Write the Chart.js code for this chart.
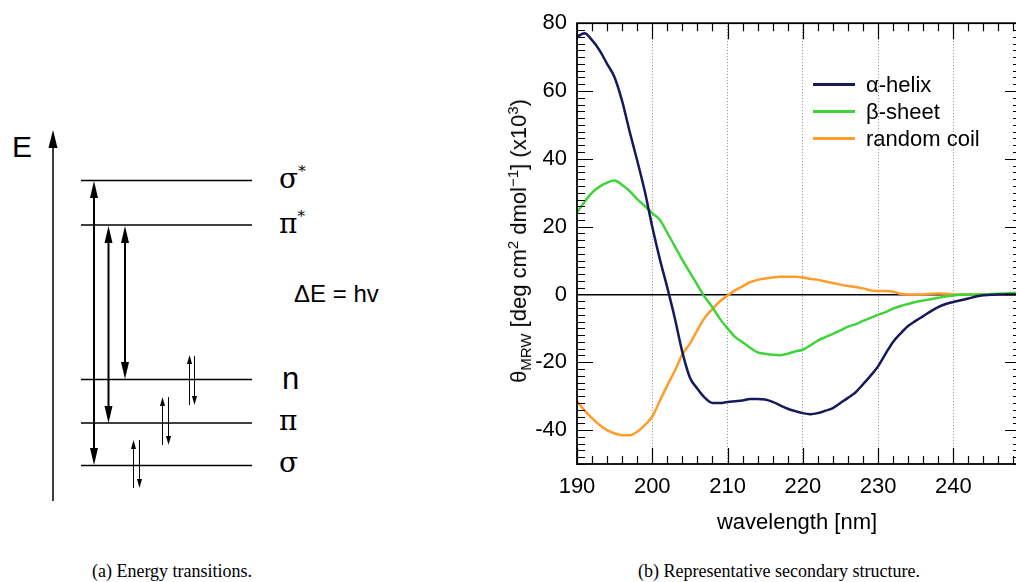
<!DOCTYPE html>
<html>
<head>
<meta charset="utf-8">
<title>CD spectra</title>
<script src="https://cdn.jsdelivr.net/npm/chart.js@4.4.0/dist/chart.umd.min.js"></script>
<style>
  html, body { margin: 0; padding: 0; background: #fff; }
  body { width: 1016px; height: 582px; position: relative; overflow: hidden;
         font-family: "Liberation Sans", Arial, Helvetica, sans-serif; color: #000; }
  #panelA { position: absolute; left: 0; top: 0; }
  #cdWrap { position: absolute; left: 500px; top: 0; width: 530px; height: 540px; }
  .ytitle { position: absolute; left: 519px; top: 241px; font-size: 22px; white-space: nowrap;
            transform: translate(-50%, -50%) rotate(-90deg); }
  .ytitle sub, .ytitle sup { font-size: 15px; line-height: 0; }
  .ytitle sup { vertical-align: 0.55em; }
  .xtitle { position: absolute; left: 797px; top: 522px; font-size: 22px; white-space: nowrap;
            transform: translate(-50%, -50%); }
  #legend { position: absolute; left: 813px; top: 71px; font-size: 22px; }
  #legend .row { position: relative; height: 27px; }
  #legend .swatch { position: absolute; left: 0; top: 12px; width: 42px; height: 3px; }
  #legend .name { position: absolute; left: 53px; top: 0; line-height: 27px; white-space: nowrap; }
  .caption { position: absolute; top: 571px; font-family: "Liberation Serif", "Times New Roman", serif;
             font-size: 18px; white-space: nowrap; transform: translate(-50%, -50%); }
</style>
</head>
<body>

<!-- (a) energy level diagram -->
<svg id="panelA" width="480" height="540" xmlns="http://www.w3.org/2000/svg">
  <g stroke="#000" fill="none">
    <!-- energy axis -->
    <line x1="53" y1="501" x2="53" y2="145" stroke-width="1.5"/>
    <!-- levels -->
    <line x1="81" y1="180.5" x2="252" y2="180.5" stroke-width="1.5"/>
    <line x1="81" y1="225" x2="252" y2="225" stroke-width="1.5"/>
    <line x1="81" y1="379.5" x2="252" y2="379.5" stroke-width="1.5"/>
    <line x1="81" y1="423" x2="252" y2="423" stroke-width="1.5"/>
    <line x1="81" y1="465.5" x2="252" y2="465.5" stroke-width="1.5"/>
    <!-- transitions -->
    <line x1="94" y1="195" x2="94" y2="450" stroke-width="2"/>
    <line x1="108.5" y1="240" x2="108.5" y2="408" stroke-width="2"/>
    <line x1="125" y1="240" x2="125" y2="364" stroke-width="2"/>
    <!-- electron pairs -->
    <line x1="189.5" y1="405" x2="189.5" y2="362" stroke-width="1"/>
    <line x1="194.5" y1="356" x2="194.5" y2="398" stroke-width="1"/>
    <line x1="162.5" y1="445" x2="162.5" y2="404" stroke-width="1"/>
    <line x1="168.5" y1="397" x2="168.5" y2="438" stroke-width="1"/>
    <line x1="133.5" y1="488" x2="133.5" y2="447" stroke-width="1"/>
    <line x1="139.5" y1="440" x2="139.5" y2="481" stroke-width="1"/>
  </g>
  <g fill="#000">
    <polygon points="53,130 48.5,148 57.5,148"/>
    <polygon points="94,181 90,198 98,198"/>
    <polygon points="94,465 90,448 98,448"/>
    <polygon points="108.5,226 104.5,243 112.5,243"/>
    <polygon points="108.5,423 104.5,406 112.5,406"/>
    <polygon points="125,226 121,243 129,243"/>
    <polygon points="125,379 121,362 129,362"/>
    <polygon points="189.5,355 187,364 192,364"/>
    <polygon points="194.5,405 192,396 197,396"/>
    <polygon points="162.5,397 160,406 165,406"/>
    <polygon points="168.5,445 166,436 171,436"/>
    <polygon points="133.5,440 131,449 136,449"/>
    <polygon points="139.5,488 137,479 142,479"/>
  </g>
  <g fill="#000" font-family="Liberation Sans, Arial, sans-serif">
    <text x="12" y="157" font-size="30">E</text>
    <text x="294" y="302" font-size="24">ΔE = hv</text>
    <text x="282" y="389" font-size="31">n</text>
  </g>
  <g fill="#000" font-family="DejaVu Serif, Liberation Serif, serif">
    <text x="279" y="188" font-size="28">σ<tspan font-size="15" dy="-12">*</tspan></text>
    <text x="279" y="233" font-size="28">π<tspan font-size="15" dy="-12">*</tspan></text>
    <text x="279" y="430" font-size="28">π</text>
    <text x="279" y="472" font-size="28">σ</text>
  </g>
</svg>

<!-- (b) CD spectra -->
<div id="cdWrap"><canvas id="cd" width="530" height="540"></canvas></div>
<div class="ytitle">θ<sub>MRW</sub> [deg cm<sup>2</sup> dmol<sup>−1</sup>] (x10<sup>3</sup>)</div>
<div class="xtitle">wavelength [nm]</div>
<div id="legend"></div>

<div class="caption" style="left:172px">(a) Energy transitions.</div>
<div class="caption" style="left:779px">(b) Representative secondary structure.</div>

<script>
// wavelength in nm, 1 nm steps
const wavelength = [
  190, 191, 192, 193, 194, 195, 196, 197, 198, 199,
  200, 201, 202, 203, 204, 205, 206, 207, 208, 209,
  210, 211, 212, 213, 214, 215, 216, 217, 218, 219,
  220, 221, 222, 223, 224, 225, 226, 227, 228, 229,
  230, 231, 232, 233, 234, 235, 236, 237, 238, 239,
  240, 241, 242, 243, 244, 245, 246, 247, 248, 249
];

// mean residue ellipticity, x10^3 deg cm2 dmol-1
const alphaHelix = [
  76.0, 77.0, 75.0, 72.0, 68.0, 64.0, 57.0, 48.0, 39.5, 30.5,
  20.0, 10.5, 2.0, -7.0, -17.0, -24.5, -27.8, -30.5, -32.0, -32.0,
  -31.7, -31.5, -31.3, -30.8, -30.8, -31.0, -31.7, -32.7, -33.7, -34.4,
  -35.0, -35.3, -35.0, -34.3, -33.5, -32.0, -30.5, -28.9, -26.5, -24.0,
  -21.2, -17.5, -14.0, -11.5, -9.3, -7.8, -6.4, -5.0, -3.7, -2.8,
  -2.2, -1.7, -1.2, -0.6, -0.2, -0.1, 0, 0, 0, 0
];
const betaSheet = [
  24.2, 27.3, 30.0, 31.8, 33.0, 33.6, 32.3, 30.5, 28.1, 26.1,
  24.0, 22.0, 18.2, 14.2, 10.2, 6.5, 2.8, -0.8, -3.8, -7.2,
  -10.0, -12.5, -14.1, -15.7, -17.1, -17.5, -17.8, -17.9, -17.5, -16.8,
  -16.3, -15.0, -13.6, -12.6, -11.6, -10.6, -9.5, -8.8, -7.8, -6.9,
  -6.0, -5.2, -4.2, -3.4, -2.8, -2.2, -1.8, -1.4, -1.0, -0.6,
  -0.3, -0.1, 0, 0, 0, 0.1, 0.2, 0.3, 0.4, 0.4
];
const randomCoil = [
  -31.4, -34.2, -36.5, -38.5, -40.0, -41.0, -41.5, -41.5, -40.5, -38.5,
  -36.0, -31.4, -26.8, -22.5, -17.7, -14.5, -10.5, -6.8, -4.3, -2.0,
  -0.3, 1.2, 2.4, 3.6, 4.3, 4.7, 5.0, 5.2, 5.2, 5.2,
  5.0, 4.6, 4.3, 3.8, 3.4, 2.9, 2.5, 2.2, 1.8, 1.2,
  1.0, 1.0, 0.8, 0.2, 0, 0, 0, 0.2, 0.3, 0.2,
  0, 0, 0, 0, 0, 0, 0, 0, 0, 0
];

const seriesNames = ['α-helix', 'β-sheet', 'random coil'];
const seriesColors = ['#16195a', '#3fd43a', '#ff9d2b'];
const xTicks = [190, 200, 210, 220, 230, 240];
const yTicks = [-40, -20, 0, 20, 40, 60, 80];

const series = [alphaHelix, betaSheet, randomCoil];
const datasets = series.map((vals, i) => ({
  label: seriesNames[i],
  data: vals.map((v, k) => ({ x: wavelength[k], y: v })),
  borderColor: seriesColors[i],
  borderWidth: 2.5,
  pointRadius: 0,
  cubicInterpolationMode: 'monotone',
  fill: false
}));

// box frame with inward major/minor ticks on all four sides
const frameTicks = {
  id: 'frameTicks',
  afterDatasetsDraw(chart) {
    const { ctx, chartArea: a, scales: { x, y } } = chart;
    ctx.save();
    ctx.strokeStyle = '#000';
    ctx.lineWidth = 1.2;
    ctx.beginPath();
    for (let v = Math.ceil(x.min / 2) * 2; v <= x.max; v += 2) {
      const px = Math.round(x.getPixelForValue(v)) + 0.5;
      const len = v % 10 === 0 ? 16 : 8;
      ctx.moveTo(px, a.bottom); ctx.lineTo(px, a.bottom - len);
      ctx.moveTo(px, a.top); ctx.lineTo(px, a.top + len);
    }
    for (let v = Math.ceil(y.min / 2) * 2; v <= y.max; v += 2) {
      const py = Math.round(y.getPixelForValue(v)) + 0.5;
      const len = v % 20 === 0 ? 16 : 8;
      ctx.moveTo(a.left, py); ctx.lineTo(a.left + len, py);
      ctx.moveTo(a.right, py); ctx.lineTo(a.right - len, py);
    }
    ctx.stroke();
    ctx.lineWidth = 1.8;
    ctx.strokeRect(a.left, a.top, a.right - a.left, a.bottom - a.top);
    ctx.restore();
  }
};

const tickFont = { family: '"Liberation Sans", Arial, sans-serif', size: 22 };

new Chart(document.getElementById('cd'), {
  type: 'line',
  data: { datasets },
  options: {
    responsive: false,
    animation: false,
    layout: { padding: { top: 19, right: 9, left: 0, bottom: 0 } },
    plugins: { legend: { display: false }, tooltip: { enabled: false } },
    scales: {
      x: {
        type: 'linear',
        min: 190,
        max: 249,
        afterBuildTicks: s => { s.ticks = xTicks.map(v => ({ value: v })); },
        afterFit: s => { s.height = 76; },
        border: { display: false, dash: [1, 2] },
        grid: {
          drawTicks: false,
          lineWidth: 1,
          color: c => (c.tick && c.tick.value > 190 ? '#8a8a8a' : 'rgba(0,0,0,0)')
        },
        ticks: { color: '#000', font: tickFont, padding: 10, maxRotation: 0 }
      },
      y: {
        min: -50,
        max: 80,
        afterBuildTicks: s => { s.ticks = yTicks.map(v => ({ value: v })); },
        afterFit: s => { s.width = 77; },
        border: { display: false },
        grid: {
          drawTicks: false,
          lineWidth: 1.5,
          color: c => (c.tick && c.tick.value === 0 ? '#000' : 'rgba(0,0,0,0)')
        },
        ticks: { color: '#000', font: tickFont, padding: 10 }
      }
    }
  },
  plugins: [frameTicks]
});

// legend box inside the plot
const legend = document.getElementById('legend');
seriesNames.forEach((name, i) => {
  const row = document.createElement('div');
  row.className = 'row';
  row.innerHTML = '<span class="swatch" style="background:' + seriesColors[i] + '"></span>' +
                  '<span class="name">' + name + '</span>';
  legend.appendChild(row);
});
</script>
</body>
</html>
